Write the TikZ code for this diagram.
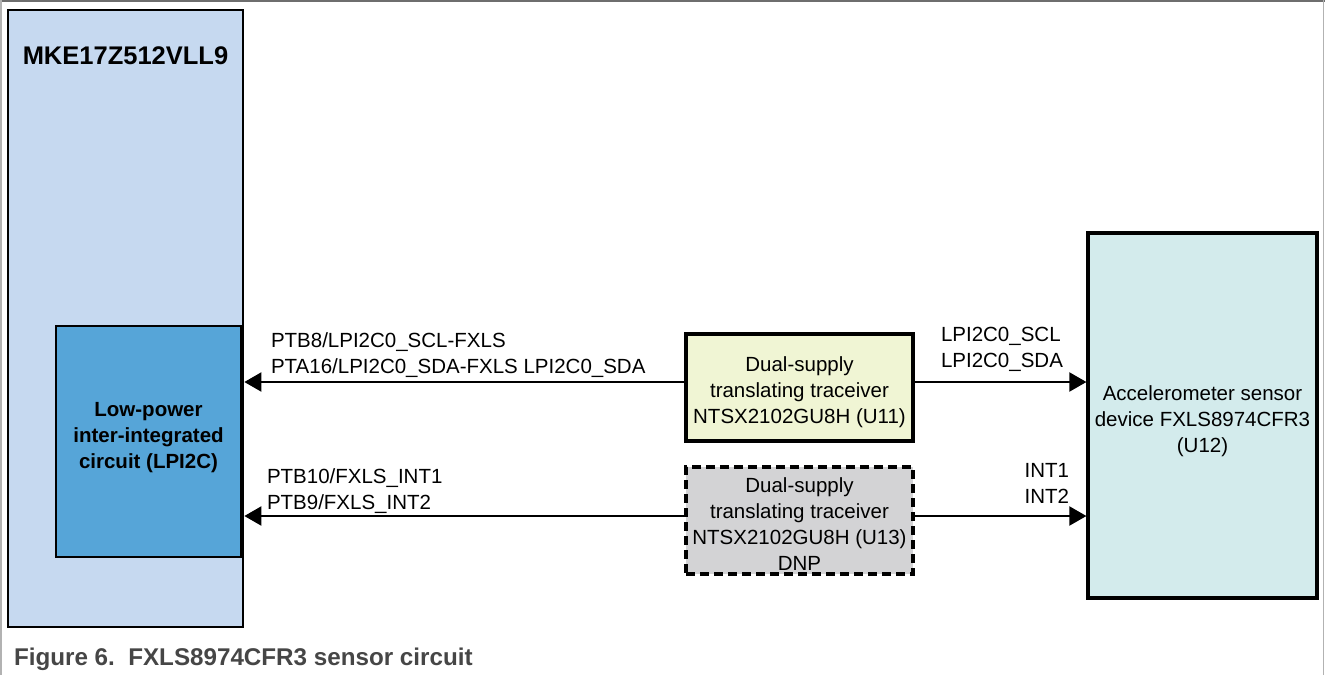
\documentclass[tikz,border=0pt]{standalone}
\usepackage{fontspec}
\setmainfont{Liberation Sans}
\usetikzlibrary{arrows.meta, positioning}
\definecolor{mcublue}{RGB}{198,217,240}
\definecolor{lpiblue}{RGB}{86,165,216}
\definecolor{xcvrgreen}{RGB}{240,245,212}
\definecolor{dnpgray}{RGB}{211,211,213}
\definecolor{accelcyan}{RGB}{211,235,236}
\definecolor{capgray}{RGB}{70,70,70}
\tikzset{
  blk/.style = {inner sep=0pt, draw=black},
  txt/.style = {align=center, inner sep=0pt, text centered,
    font=\fontsize{20.5}{26}\selectfont},
  xcvr/.style = {blk, fill=xcvrgreen, line width=3.5pt,
    minimum width=227pt, minimum height=107pt},
  sig/.style = {font=\fontsize{20.5}{26.5}\selectfont, inner sep=0pt}
}
\begin{document}
\begin{tikzpicture}[x=1pt, y=-1pt, ->, >={Triangle[length=17pt,width=19pt]},
  line width=2pt]
\useasboundingbox (0,0) rectangle (1325,675);
% frame
\draw[-, line width=2pt, black!57] (0,1) -- (1325,1);
\draw[-, line width=1.5pt, black!30] (1,0) -- (1,675);
\draw[-, line width=1.5pt, black!30] (1323.5,0) -- (1323.5,675);

% blocks
\node [blk, fill=mcublue, line width=2.7pt, minimum width=235pt,
  minimum height=617pt] (mcu) at (125.5,318.5) {};
\node [txt, font=\bfseries\fontsize{25.5}{30}\selectfont]
  (mcuname) at (125.5,56) {MKE17Z512VLL9};
\node [blk, fill=lpiblue, line width=2.7pt, minimum width=185pt,
  minimum height=231pt] (lpi) at (148.5,441.5) {};
\node [txt, font=\bfseries\fontsize{20.5}{26}\selectfont] (lpitxt)
  at ([yshift=4pt]lpi) {Low-power\\inter-integrated\\circuit (LPI2C)};
\node [xcvr] (xcvrA) at (799.5,387.5) {};
\node [txt] (xcvrAtxt) at ([yshift=-5pt]xcvrA)
  {Dual-supply\\translating traceiver\\NTSX2102GU8H (U11)};
\node [xcvr, fill=dnpgray, dash pattern=on 9pt off 5pt] (xcvrB)
  at (799.5,520.5) {};
\node [txt] (xcvrBtxt) at ([yshift=-4pt]xcvrB)
  {Dual-supply\\translating traceiver\\NTSX2102GU8H (U13)\\DNP};
\node [blk, fill=accelcyan, line width=3.2pt, minimum width=229pt,
  minimum height=365pt] (accel) at (1202.5,415.5) {};
\node [txt] (acceltxt) at ([yshift=-6pt]accel)
  {Accelerometer sensor\\device FXLS8974CFR3\\(U12)};

% buses
\coordinate (sclL) at ([yshift=5.5pt]xcvrA.west);
\coordinate (sclR) at ([yshift=5.5pt]xcvrA.east);
\coordinate (intL) at ([yshift=4.5pt]xcvrB.west);
\coordinate (intR) at ([yshift=4.5pt]xcvrB.east);
\draw (sclL) -- (sclL -| mcu.east);
\draw (sclR) -- (sclR -| accel.west);
\draw (intL) -- (intL -| mcu.east);
\draw (intR) -- (intR -| accel.west);

% signal names
\node [sig, anchor=west, align=left] (sclLbl) at (270,355)
  {PTB8/LPI2C0\_SCL-FXLS\\PTA16/LPI2C0\_SDA-FXLS LPI2C0\_SDA};
\node [sig, anchor=west, align=left] (intLbl) at (266,491)
  {PTB10/FXLS\_INT1\\PTB9/FXLS\_INT2};
\node [sig, anchor=west, align=left] (sclRLbl) at (940,349.5)
  {LPI2C0\_SCL\\LPI2C0\_SDA};
\node [sig, anchor=east, align=right] (intRLbl) at (1070,483.5)
  {INT1\\INT2};

% caption
\node [anchor=west, text=capgray, inner sep=0pt,
  font=\bfseries\fontsize{24.2}{28}\selectfont] (caption) at (13,659)
  {Figure 6.\ \ FXLS8974CFR3 sensor circuit};
\end{tikzpicture}
\end{document}
